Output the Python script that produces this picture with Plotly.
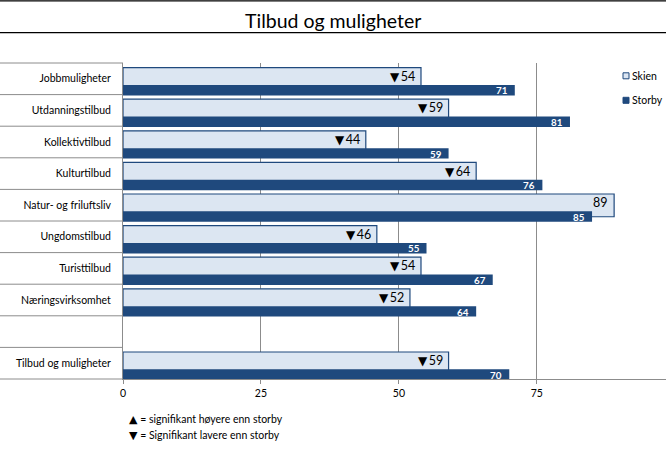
import plotly.graph_objects as go

# ---------------- data ----------------
categories = ["Jobbmuligheter", "Utdanningstilbud", "Kollektivtilbud", "Kulturtilbud",
              "Natur- og friluftsliv", "Ungdomstilbud", "Turisttilbud", "Næringsvirksomhet",
              "", "Tilbud og muligheter"]
skien = [54, 59, 44, 64, 89, 46, 54, 52, None, 59]
storby = [71, 81, 59, 76, 85, 55, 67, 64, None, 70]
signif = ["▼", "▼", "▼", "▼", "", "▼", "▼", "▼", "", "▼"]
x_ticks = [0, 25, 50, 75]
series_names = ["Skien", "Storby"]
footnote_symbols = ["▲", "▼"]
footnote_texts = [" = signifikant høyere enn storby", " = Signifikant lavere enn storby"]
title_text = "Tilbud og muligheter"

# ---------------- style ----------------
W, H = 666, 454
ML, MR, MT, MB = 123, 0, 63, 75
PW, PH = W - ML - MR, H - MT - MB
FONT = "Lato, Carlito, 'Open Sans', sans-serif"
LIGHT = "#DCE6F2"
DARK = "#1F497D"
GRID = "#8C8C8C"

def px_x(px):
    return (px - ML) / PW

def px_y(py):
    return (H - MB - py) / PH

def tri(sym, size, gap=""):
    if not sym:
        return ""
    return f"<span style='font-family:DejaVu Sans;font-size:{size}px'>{sym}</span>{gap}"

idx = list(range(len(categories)))

fig = go.Figure()
fig.add_trace(go.Bar(
    y=idx, x=skien, orientation="h", name=series_names[0],
    width=0.72, offset=-0.355,
    marker=dict(color=LIGHT, line=dict(color=DARK, width=1.2)),
    showlegend=False, hoverinfo="x+name"))
fig.add_trace(go.Bar(
    y=idx, x=storby, orientation="h", name=series_names[1],
    width=0.33, offset=0.195,
    marker=dict(color=DARK, line=dict(width=0)),
    showlegend=False, hoverinfo="x+name"))

annotations = []
for i in idx:
    if skien[i] is not None:
        annotations.append(dict(
            x=skien[i], y=i, xref="x", yref="y", xanchor="right", yanchor="middle",
            xshift=-4, yshift=2.5, showarrow=False,
            text=f"{tri(signif[i], 12, chr(0x2009))}{skien[i]}",
            font=dict(family=FONT, size=12.5, color="#000000")))
    if storby[i] is not None:
        annotations.append(dict(
            x=storby[i], y=i, xref="x", yref="y", xanchor="right", yanchor="middle",
            xshift=-5, yshift=-11.5, showarrow=False,
            text=f"<b>{storby[i]}</b>", font=dict(family=FONT, size=9.8, color="#FFFFFF")))

# footnotes
for k, (s, t) in enumerate(zip(footnote_symbols, footnote_texts)):
    annotations.append(dict(
        x=px_x(127), y=px_y(419 + 16.5 * k), xref="paper", yref="paper",
        xanchor="left", yanchor="middle", showarrow=False, text=tri(s, 11) + t,
        font=dict(family=FONT, size=10.5, color="#000000")))

# legend (manual)
leg_y = [75.8, 100.3]
leg_fill = [LIGHT, DARK]
shapes = []
for k, name in enumerate(series_names):
    shapes.append(dict(type="rect", xref="paper", yref="paper",
                       x0=px_x(623), x1=px_x(629), y0=px_y(leg_y[k] - 3), y1=px_y(leg_y[k] + 3),
                       fillcolor=leg_fill[k], line=dict(color=DARK, width=1)))
    annotations.append(dict(
        x=px_x(630), y=px_y(leg_y[k]), xref="paper", yref="paper",
        xanchor="left", yanchor="middle", showarrow=False, text=name,
        font=dict(family=FONT, size=10.5, color="#000000")))

# title
annotations.append(dict(
    x=px_x(W / 2), y=px_y(20.5), xref="paper", yref="paper", xanchor="center", yanchor="middle",
    showarrow=False, text=title_text, font=dict(family=FONT, size=19.5, color="#000000")))

# title lines
for py in [0.8, 32.7]:
    shapes.append(dict(type="line", xref="paper", yref="paper",
                       x0=px_x(0), x1=1, y0=px_y(py), y1=px_y(py),
                       line=dict(color="#000000", width=1.2)))

# label-area row separators
n = len(categories)
for k in range(n + 1):
    shapes.append(dict(type="line", xref="paper", yref="paper",
                       x0=px_x(0), x1=0, y0=k / n, y1=k / n,
                       line=dict(color=GRID, width=1)))

fig.update_layout(
    width=W, height=H,
    margin=dict(l=ML, r=MR, t=MT, b=MB),
    paper_bgcolor="#FFFFFF", plot_bgcolor="#FFFFFF",
    barmode="overlay", showlegend=False,
    annotations=annotations, shapes=shapes,
    font=dict(family=FONT, size=10.5, color="#000000"),
    xaxis=dict(range=[0, 98.4], tickvals=x_ticks, ticktext=[str(v) for v in x_ticks],
               showgrid=True, gridcolor=GRID, gridwidth=1, zeroline=False,
               showline=True, linecolor=GRID, linewidth=1,
               ticks="outside", ticklen=4, tickcolor=GRID,
               tickfont=dict(family=FONT, size=10.5, color="#000000")),
    yaxis=dict(range=[n - 0.5, -0.5], tickvals=idx, ticktext=categories,
               showgrid=False, zeroline=False, showline=True, linecolor=GRID, linewidth=1,
               ticks="", ticklabelstandoff=9,
               tickfont=dict(family=FONT, size=10.5, color="#000000")),
)

fig.write_html("out.html")
